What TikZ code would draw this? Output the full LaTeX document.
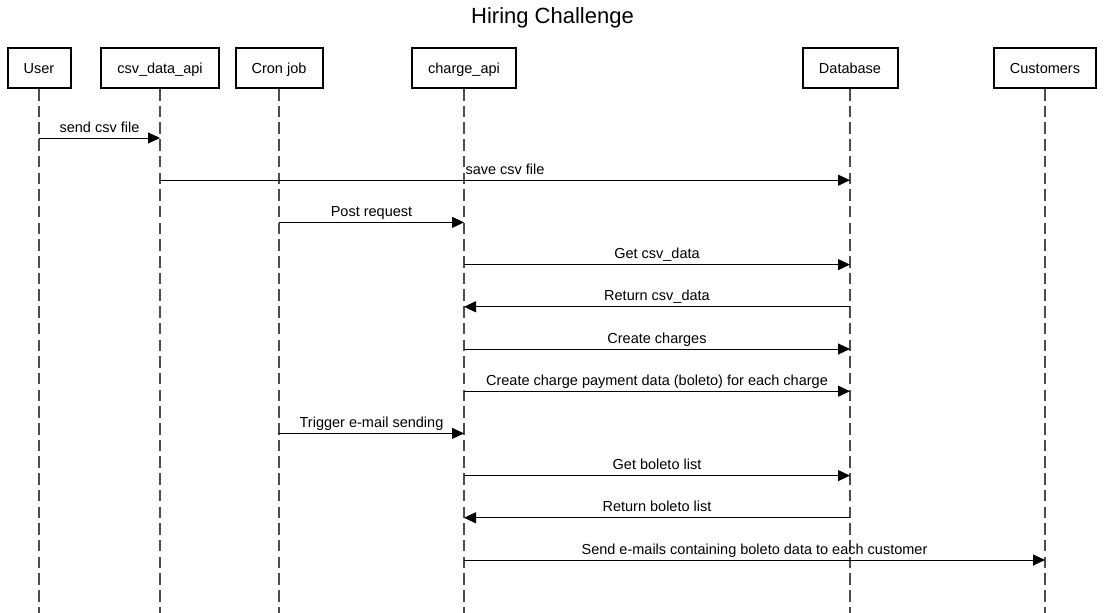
\documentclass[tikz,border=0pt]{standalone}
\usepackage{fontspec}
\setmainfont{Liberation Sans}
\usetikzlibrary{arrows.meta,positioning,calc}
\definecolor{sqInk}{HTML}{000000}
\definecolor{sqLife}{HTML}{4D4D4D}

\begin{document}
\begin{tikzpicture}[
  x=1pt, y=-1pt, font=\fontsize{14.5}{17}\selectfont,
  >={Triangle[length=12pt,width=11pt]},
  actor/.style={draw=sqInk,line width=2pt,minimum height=40pt,inner sep=0pt,
                text height=10.5pt,text depth=0pt},
  life/.style={sqLife,line width=1.7pt,dash pattern=on 11.5pt off 5.2pt},
  msg/.style={->,sqInk,line width=1pt},
  lbl/.style={anchor=base,yshift=6pt,inner sep=0pt,text=sqInk},
]
\useasboundingbox (0,0) rectangle (1104,613);
\node[font=\fontsize{22}{26}\selectfont,anchor=base,inner sep=0pt] (title) at (552.5,23.3) {Hiring Challenge};
% participants
\node[actor,minimum width=63pt]  (user)   at (39,68)   {User};
\node[actor,minimum width=118pt] (csvapi) at (160,68)  {csv\_data\_api};
\node[actor,minimum width=87pt]  (cron)   at (279,68)  {Cron job};
\node[actor,minimum width=104pt] (charge) at (464,68)  {charge\_api};
\node[actor,minimum width=95pt]  (db)     at (850,68)  {Database};
\node[actor,minimum width=102pt] (cust)   at (1045,68) {Customers};

% lifelines down to the bottom edge
\coordinate (floor) at (0,613);
\draw[life] (user.south)   -- (user |- floor);
\draw[life] (csvapi.south) -- (csvapi |- floor);
\draw[life] (cron.south)   -- (cron |- floor);
\draw[life] (charge.south) -- (charge |- floor);
\draw[life] (db.south)     -- (db |- floor);
\draw[life] (cust.south)   -- (cust |- floor);

% message rows
\coordinate (r1)  at (0,138);
\coordinate (r2)  at (0,180.2);
\coordinate (r3)  at (0,222.4);
\coordinate (r4)  at (0,264.6);
\coordinate (r5)  at (0,306.8);
\coordinate (r6)  at (0,349);
\coordinate (r7)  at (0,391.2);
\coordinate (r8)  at (0,433.4);
\coordinate (r9)  at (0,475.6);
\coordinate (r10) at (0,517.8);
\coordinate (r11) at (0,560);

% upload
\draw[msg] (user |- r1)   -- node[lbl]{send csv file} (csvapi |- r1);
\draw[msg] (csvapi |- r2) -- node[lbl]{save csv file} (db |- r2);
% charge generation
\draw[msg] (cron |- r3)   -- node[lbl]{Post request} (charge |- r3);
\draw[msg] (charge |- r4) -- node[lbl]{Get csv\_data} (db |- r4);
\draw[msg] (db |- r5)     -- node[lbl]{Return csv\_data} (charge |- r5);
\draw[msg] (charge |- r6) -- node[lbl]{Create charges} (db |- r6);
\draw[msg] (charge |- r7) -- node[lbl]{Create charge payment data (boleto) for each charge} (db |- r7);
% e-mail sending
\draw[msg] (cron |- r8)   -- node[lbl]{Trigger e-mail sending} (charge |- r8);
\draw[msg] (charge |- r9) -- node[lbl]{Get boleto list} (db |- r9);
\draw[msg] (db |- r10)    -- node[lbl]{Return boleto list} (charge |- r10);
\draw[msg] (charge |- r11) -- node[lbl]{Send e-mails containing boleto data to each customer} (cust |- r11);
\end{tikzpicture}
\end{document}
